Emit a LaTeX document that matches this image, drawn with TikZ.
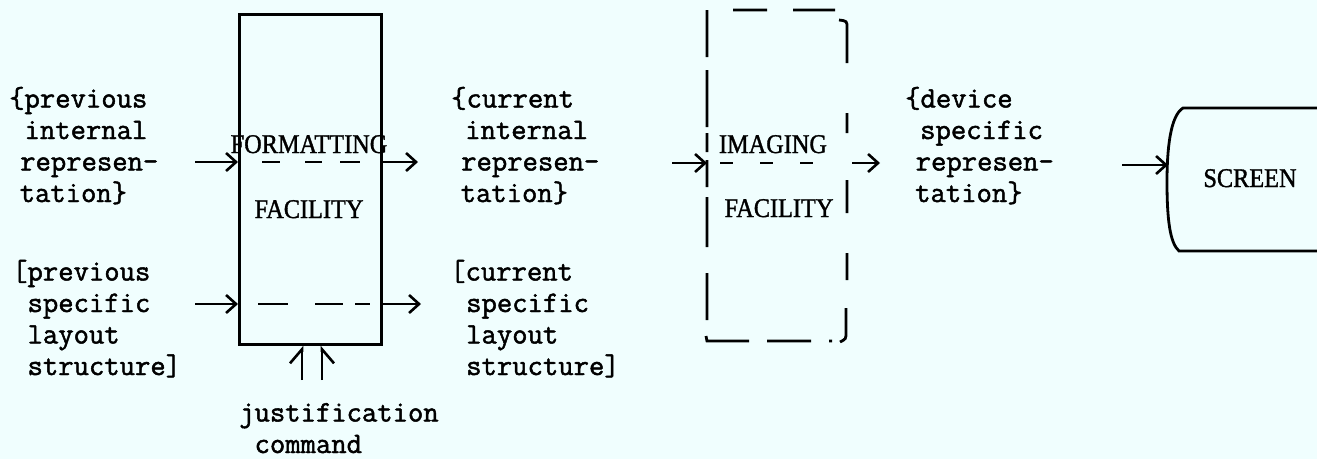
\documentclass[tikz,border=0pt]{standalone}
\usepackage{fontspec}
\usetikzlibrary{arrows.meta}
\newfontfamily\twfont[FakeBold=1.6]{Latin Modern Mono}
\newfontfamily\capfont[FakeStretch=0.9,FakeBold=1.2]{Liberation Serif}
\definecolor{paper}{RGB}{240,254,254}
\begin{document}
\begin{tikzpicture}[x=1pt,y=-1pt,
  ln/.style={line width=2.8pt, draw=black},
  dl/.style={line width=2.5pt, draw=black},
  arr/.style={ln, -{Straight Barb[length=10pt,width=18pt,line width=2.6pt]}},
  twtext/.style={anchor=base west, inner sep=0pt, align=left, font=\twfont\fontsize{29.8}{31.5}\selectfont},
  captext/.style={inner sep=0pt, anchor=base, font=\capfont\fontsize{27}{30}\selectfont},
]
\fill[paper] (0,0) rectangle (1317,459);
\useasboundingbox (0,0) rectangle (1317,459);

% ---------- left texts (anchor = baseline of last line)
\node[twtext] (prevint) at (9,202) {\{previous\\\hspace*{15.4pt}internal\\\hspace*{11pt}represen-\\\hspace*{10.5pt}tation\}};
\node[twtext] (prevlay) at (12,375) {[previous\\\hspace*{15.4pt}specific\\\hspace*{15.4pt}layout\\\hspace*{15.4pt}structure]};

% ---------- formatting facility
\node[ln, draw, minimum width=142pt, minimum height=330pt, inner sep=0pt, anchor=north west] (fmt) at (238,13) {};
\node[captext] (fmtA) at (309,153) {FORMATTING};
\node[captext] (fmtB) at (309,218) {FACILITY};

\coordinate (inA) at (195,162);
\coordinate (outA) at (418,162);
\coordinate (inB) at (195,304);
\coordinate (outB) at (421,304);
\draw[arr] (inA) -- (inA -| fmt.west);
\draw[arr] (inA -| fmt.east) -- (outA);
\draw[arr] (inB) -- (inB -| fmt.west);
\draw[arr] (inB -| fmt.east) -- (outB);
\draw[dl, dash pattern=on 18pt off 25pt on 17pt off 18pt on 20pt off 10pt] (262,162) -- (360,162);
\draw[dl, dash pattern=on 30pt off 27pt on 28pt off 12pt on 15pt off 10pt] (258,304) -- (370,304);

% justification command
\node[twtext] (just) at (239,453) {justification\\\hspace*{15.4pt}command};
\coordinate (j1) at (302,380);
\coordinate (j2) at (322,380);
\draw[ln, -{Straight Barb[left,length=14pt,width=24pt,line width=2.6pt]}] (j1) -- (j1 |- fmt.south);
\draw[ln, -{Straight Barb[right,length=14pt,width=24pt,line width=2.6pt]}] (j2) -- (j2 |- fmt.south);

% ---------- current texts
\node[twtext] (curint) at (451,202) {\{current\\\hspace*{14pt}internal\\\hspace*{10pt}represen-\\\hspace*{9.5pt}tation\}};
\node[twtext] (curlay) at (450,375) {[current\\\hspace*{16pt}specific\\\hspace*{16pt}layout\\\hspace*{16pt}structure]};

% ---------- imaging facility (dashed box)
\node[minimum width=140pt, minimum height=332pt, inner sep=0pt, anchor=north west] (img) at (707,10) {};
\draw[ln]
  (707,10) -- (707,57)  (707,70) -- (707,127)  (707,133) -- (707,152)
  (707,160) -- (707,187)  (707,197) -- (707,247)  (707,273) -- (707,320)
  (706,336) -- (707,341) -- (749,341)  (767,341) -- (811,341)  (829,341) -- (832,341)
  (846,308) -- (846,332) .. controls (846,339) .. (840,342)
  (847,253) -- (847,280)  (847,180) -- (847,213)  (847,113) -- (847,133)
  (839,20) .. controls (847,21) .. (847,28) -- (847,63)
  (733,10) -- (767,10)  (793,10) -- (835,10);
\node[captext] (imgA) at (773,153) {IMAGING};
\node[captext] (imgB) at (779,217) {FACILITY};
\coordinate (inC) at (672,163);
\coordinate (outC) at (880,163);
\draw[arr] (inC) -- (inC -| img.west);
\draw[arr] (852,163) -- (outC);
\draw[dl, dash pattern=on 13pt off 27pt] (720,163) -- (818,163);

% ---------- device texts
\node[twtext] (dev) at (905,202) {\{device\\\hspace*{15pt}specific\\\hspace*{10.5pt}represen-\\\hspace*{10pt}tation\}};

% ---------- screen
\draw[ln] (1320,108) -- (1183,108) .. controls (1170,116) and (1167,150) .. (1167,182)
  .. controls (1167,220) and (1170,243) .. (1179,251) -- (1320,251);
\node[captext] (scr) at (1250,187) {SCREEN};
\coordinate (devout) at (1122,165);
\coordinate (scrin) at (1168,165);
\draw[arr] (devout) -- (scrin);
\end{tikzpicture}
\end{document}
